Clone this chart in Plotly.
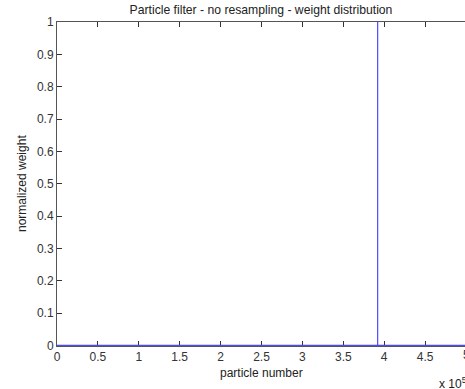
import plotly.graph_objects as go

# Data: weights of 500000 particles, all ~0 except one particle with weight 1
particle_number = [1, 391999, 392000, 392001, 500000]
normalized_weight = [0, 0, 1, 0, 0]

x_tickvals = [0, 50000, 100000, 150000, 200000, 250000, 300000, 350000, 400000, 450000]
x_ticktext = ["0", "0.5", "1", "1.5", "2", "2.5", "3", "3.5", "4", "4.5"]
y_tickvals = [0, 0.1, 0.2, 0.3, 0.4, 0.5, 0.6, 0.7, 0.8, 0.9, 1]
y_ticktext = ["0", "0.1", "0.2", "0.3", "0.4", "0.5", "0.6", "0.7", "0.8", "0.9", "1"]

FONT = "Liberation Sans, Arial, sans-serif"
AX = "#555555"
W, H = 465, 389
L, T, B = 57, 22, 43
plot_w = W - L  # 408 px, full axis would be 409 px for 0..5e5
x_max = 500000 * plot_w / 409
y_lo = -0.002

fig = go.Figure()
fig.add_trace(go.Scatter(
    x=particle_number, y=normalized_weight, mode="lines",
    line=dict(color="#4a4aff", width=1.2), hoverinfo="skip", showlegend=False,
))

tick_common = dict(ticks="inside", ticklen=5, tickcolor="#333333", tickwidth=1,
                   tickfont=dict(family=FONT, size=12, color="#333333"))

fig.update_layout(
    width=W, height=H,
    margin=dict(l=L, r=0, t=T, b=B, pad=0),
    paper_bgcolor="white", plot_bgcolor="white",
    font=dict(family=FONT, size=12, color="#333333"),
    title=dict(text="Particle filter - no resampling - weight distribution",
               x=0.5, xref="paper", xanchor="center",
               y=1 - 10 / H, yref="container", yanchor="middle",
               font=dict(family=FONT, size=12.2, color="#222222")),
    xaxis=dict(range=[0, x_max], tickvals=x_tickvals, ticktext=x_ticktext,
               showgrid=False, zeroline=False, showline=True, linecolor=AX, linewidth=1,
               mirror="ticks", layer="below traces", **tick_common),
    yaxis=dict(range=[y_lo, 1], tickvals=y_tickvals, ticktext=y_ticktext,
               showgrid=False, zeroline=False, showline=True, linecolor=AX, linewidth=1,
               mirror=False, layer="below traces", **tick_common),
)

fig.add_annotation(text="particle number", xref="paper", yref="paper", x=0.5, y=0,
                   xanchor="center", yanchor="middle", yshift=-27, showarrow=False,
                   font=dict(family=FONT, size=12, color="#222222"))
fig.add_annotation(text="normalized weight", xref="paper", yref="paper", x=0, y=0.5,
                   xanchor="center", yanchor="middle", xshift=-(L - 22), textangle=-90,
                   showarrow=False, font=dict(family=FONT, size=12, color="#222222"))
fig.add_annotation(text="x 10<sup>5</sup>", xref="paper", yref="paper", x=0, y=0,
                   xanchor="left", yanchor="middle", xshift=437 - L, yshift=-(383 - (H - B)),
                   showarrow=False, font=dict(family=FONT, size=12, color="#222222"))
fig.add_annotation(text="5", xref="paper", yref="paper", x=1, y=0,
                   xanchor="center", yanchor="middle", xshift=1, yshift=-9, showarrow=False,
                   font=dict(family=FONT, size=12, color="#333333"))

fig.write_html("out.html")
